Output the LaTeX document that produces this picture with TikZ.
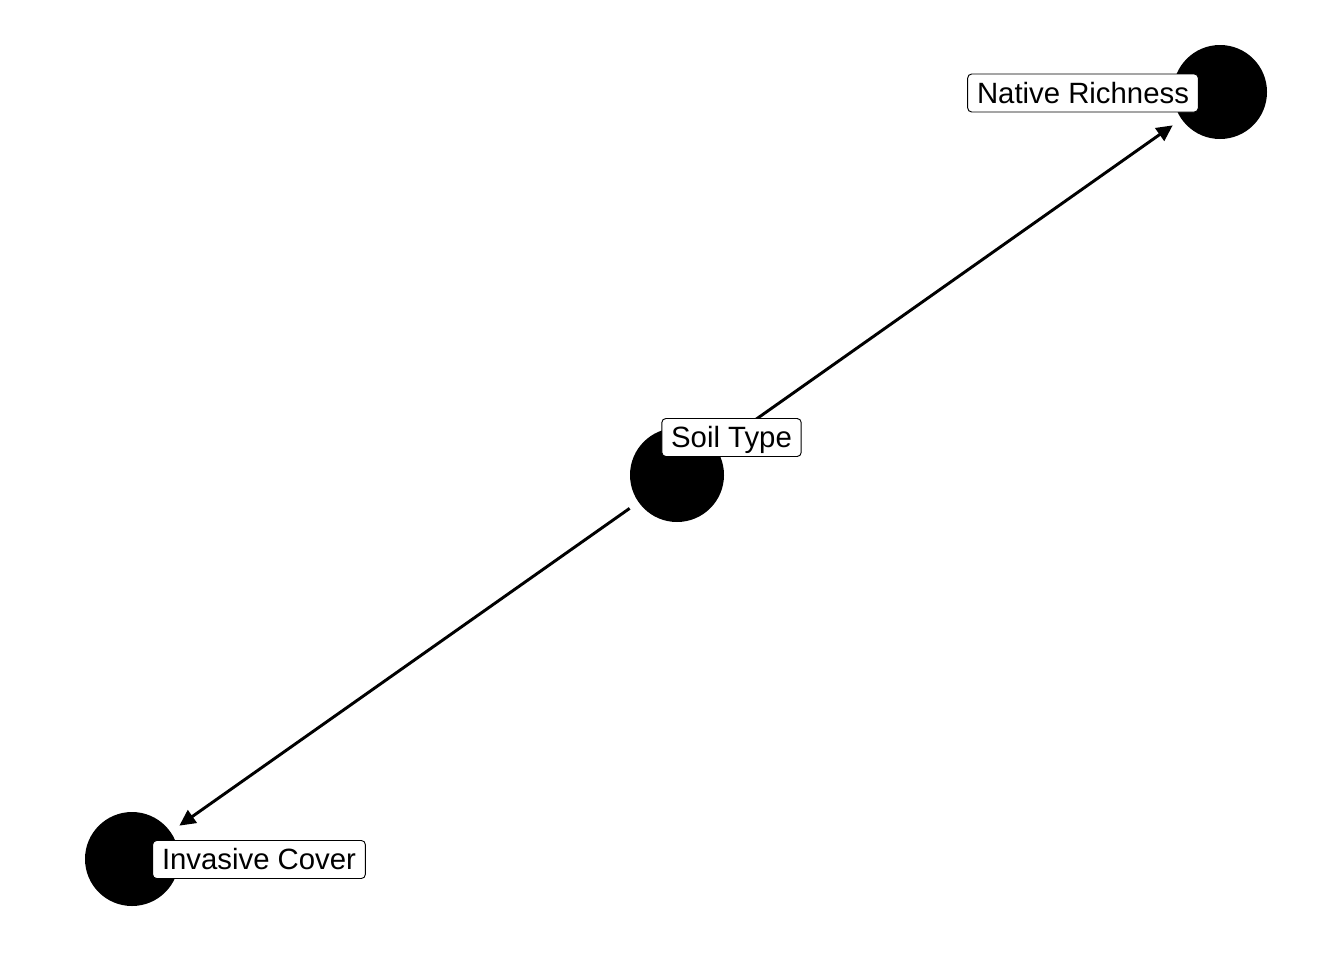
\documentclass[tikz,border=0pt]{standalone}
\usepackage{fontspec}
\setmainfont{Liberation Sans}
\usetikzlibrary{arrows.meta}

\begin{document}
\begin{tikzpicture}[x=0.75pt, y=-0.75pt,
  nd/.style={circle, fill=black, inner sep=0pt, minimum size=70.5pt},
  lb/.style={rounded corners=3pt, draw=black, line width=0.7pt, fill=white,
             inner xsep=7pt, inner ysep=0pt, minimum height=28.5pt,
             text height=20pt, text depth=4.6pt,
             font=\fontsize{22}{26}\selectfont},
  ar/.style={-{Triangle[length=12pt, width=11.5pt]}, line width=2.2pt,
             shorten <=8pt, shorten >=8pt}]
\useasboundingbox (0,0) rectangle (1344,960);
\node[nd] (soil) at (677,475) {};
\node[nd] (native) at (1220,92) {};
\node[nd] (invasive) at (132,859) {};
\draw[ar] (soil) -- (native);
\draw[ar] (soil) -- (invasive);
\node[lb] (soillab) at (731.5,437.5) {Soil Type};
\node[lb] (nativelab) at (1083,93) {Native Richness};
\node[lb] (invasivelab) at (259,859.5) {Invasive Cover};
\end{tikzpicture}
\end{document}
